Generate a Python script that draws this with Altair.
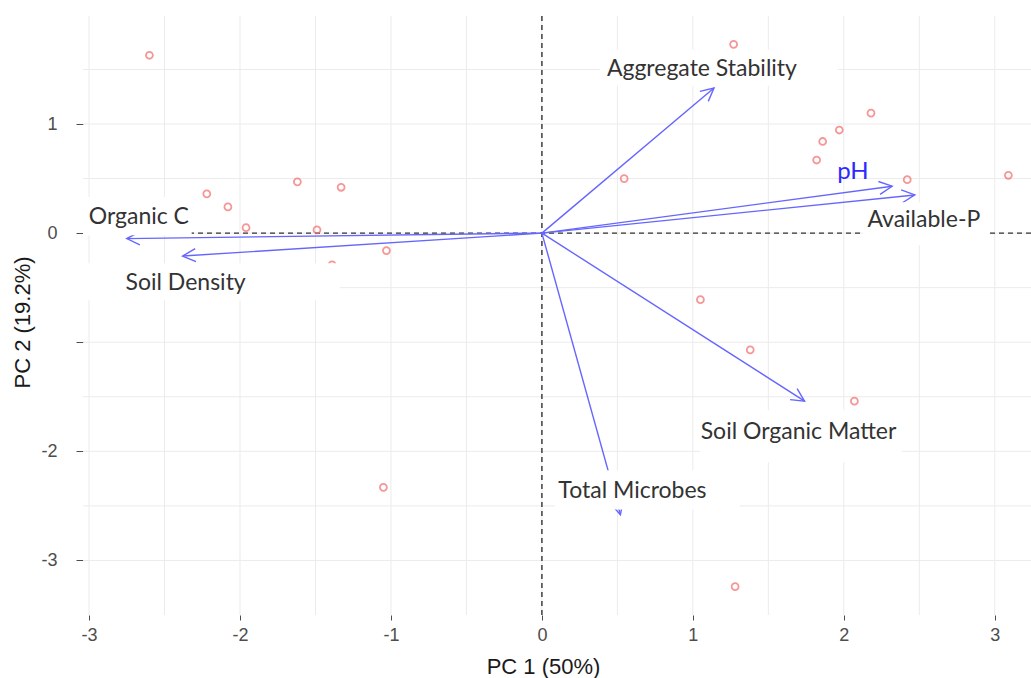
import math
import altair as alt
import pandas as pd

# ---- data ----
pc1 = [-2.60, -2.22, -2.08, -1.96, -1.62, -1.33, -1.49, -1.39, -1.03, -1.05,
       0.545, 1.27, 2.18, 1.97, 1.86, 1.82, 2.42, 3.09, 1.05, 1.38, 2.07, 1.28]
pc2 = [1.63, 0.36, 0.24, 0.05, 0.47, 0.42, 0.03, -0.29, -0.16, -2.33,
       0.50, 1.73, 1.10, 0.945, 0.84, 0.67, 0.49, 0.53, -0.61, -1.07, -1.54, -3.24]

variables = ["Aggregate Stability", "pH", "Available-P", "Soil Organic Matter",
             "Total Microbes", "Organic C", "Soil Density"]
load_x = [1.14, 2.32, 2.47, 1.74, 0.52, -2.75, -2.38]
load_y = [1.33, 0.43, 0.35, -1.54, -2.58, -0.05, -0.21]
label_x = [1.06, 2.06, 2.53, 1.70, 0.60, -2.67, -2.36]
label_y = [1.50, 0.56, 0.12, -1.82, -2.36, 0.15, -0.46]
label_color = ["#333333", "#2b2bff", "#333333", "#333333", "#333333", "#333333", "#333333"]
label_size = [23, 24, 23, 23, 23, 23, 23]

# white label boxes (data units)
box_x1 = [0.384, 2.126, 1.046, 0.086, -3.04, -3.04]
box_x2 = [1.96, 2.967, 2.384, 1.311, -2.32, -1.34]
box_y1 = [1.68, 0.284, -1.624, -2.174, 0.33, -0.275]
box_y2 = [1.35, -0.11, -2.10, -2.532, -0.02, -0.615]

grid_x = [-3, -2.5, -2, -1.5, -1, -0.5, 0, 0.5, 1, 1.5, 2, 2.5, 3]
grid_y = [-3, -2.5, -2, -1.5, -1, -0.5, 0, 0.5, 1, 1.5]
x_ticks = [-3, -2, -1, 0, 1, 2, 3]
y_ticks = [-3, -2, -1, 0, 1]

XMIN, XMAX = -3.04, 3.24
YMIN, YMAX = -3.50, 1.99
W, H = 948, 599

kx = W / (XMAX - XMIN)
ky = H / (YMAX - YMIN)

xs = alt.Scale(domain=[XMIN, XMAX], nice=False, zero=False)
ys = alt.Scale(domain=[YMIN, YMAX], nice=False, zero=False)

points = pd.DataFrame({"pc1": pc1, "pc2": pc2})
loads = pd.DataFrame({
    "var": variables, "x0": [0.0] * len(variables), "y0": [0.0] * len(variables),
    "x": load_x, "y": load_y,
    "angle": [math.degrees(math.atan2(-yy * ky, xx * kx)) % 360 for xx, yy in zip(load_x, load_y)],
})
labels = pd.DataFrame({"var": variables, "x": label_x, "y": label_y,
                       "color": label_color, "size": label_size})
boxes = pd.DataFrame({"x1": box_x1, "x2": box_x2, "y1": box_y1, "y2": box_y2})
gx = pd.DataFrame({"v": grid_x})
gy = pd.DataFrame({"v": grid_y})
zero = pd.DataFrame({"v": [0]})

arrow_col = "#6666ff"

base_x_axis = alt.Axis(values=x_ticks, labelExpr="toString(datum.value)", grid=False,
                       domain=False, tickColor="#4d4d4d",
                       tickSize=5, labelPadding=6, labelFont="Liberation Sans",
                       labelFontSize=18, labelColor="#4d4d4d", title="PC 1 (50%)",
                       titleFont="Liberation Sans", titleFontSize=22, titleFontWeight="normal",
                       titleColor="#1a1a1a", titleX=460, titleY=51, titleBaseline="middle",
                       titleAlign="center")
base_y_axis = alt.Axis(values=y_ticks, grid=False, domain=False, tickColor="#4d4d4d",
                       tickSize=7, labelPadding=19, labelFont="Liberation Sans",
                       labelFontSize=18, labelColor="#4d4d4d",
                       labelExpr="datum.value == -1 ? '' : toString(datum.value)",
                       title="PC 2 (19.2%)", titleFont="Liberation Sans", titleFontSize=22,
                       titleFontWeight="normal", titleColor="#1a1a1a", titleX=-61, titleY=306,
                       titleBaseline="middle", titleAlign="center", titleAngle=270)

grid_v = alt.Chart(gx).mark_rule(color="#ebebeb", strokeWidth=1).encode(
    x=alt.X("v:Q", scale=xs, axis=base_x_axis))
grid_h = alt.Chart(gy).mark_rule(color="#ebebeb", strokeWidth=1).encode(
    y=alt.Y("v:Q", scale=ys, axis=base_y_axis))

dash_v = alt.Chart(zero).mark_rule(color="#333333", strokeWidth=1.4, strokeDash=[5, 4]).encode(
    x=alt.X("v:Q", scale=xs))
dash_h = alt.Chart(zero).mark_rule(color="#333333", strokeWidth=1.4, strokeDash=[5, 4]).encode(
    y=alt.Y("v:Q", scale=ys))

pts = alt.Chart(points).mark_point(shape="circle", filled=False, color="#f36b6b",
                                   size=48, strokeWidth=1.8).encode(
    x=alt.X("pc1:Q", scale=xs), y=alt.Y("pc2:Q", scale=ys))

arrows = alt.Chart(loads).mark_rule(color=arrow_col, strokeWidth=1.4).encode(
    x=alt.X("x0:Q", scale=xs), y=alt.Y("y0:Q", scale=ys),
    x2="x:Q", y2="y:Q")
heads = alt.Chart(loads).mark_point(shape="M -1 -0.5 L 0 0 L -1 0.5", filled=False,
                                    color=arrow_col, size=676, strokeWidth=1.4, opacity=1).encode(
    x=alt.X("x:Q", scale=xs), y=alt.Y("y:Q", scale=ys),
    angle=alt.Angle("angle:Q", scale=None))

wbox = alt.Chart(boxes).mark_rect(color="white").encode(
    x=alt.X("x1:Q", scale=xs), x2="x2:Q",
    y=alt.Y("y1:Q", scale=ys), y2="y2:Q")

txt = alt.Chart(labels).mark_text(font="Lato", align="center", baseline="middle").encode(
    x=alt.X("x:Q", scale=xs), y=alt.Y("y:Q", scale=ys), text="var:N",
    color=alt.Color("color:N", scale=None), size=alt.Size("size:Q", scale=None))

chart = alt.layer(grid_v, grid_h, dash_v, dash_h, pts, arrows, heads, wbox, txt).properties(
    width=W, height=H, autosize=alt.AutoSizeParams(type="none"),
    padding={"left": 83, "top": 16, "right": 0, "bottom": 63},
    background="white",
).configure_view(stroke=None, strokeWidth=0).configure_axis(domain=False, grid=False)

chart.save("out.html", embed_options={"renderer": "svg", "actions": False})
